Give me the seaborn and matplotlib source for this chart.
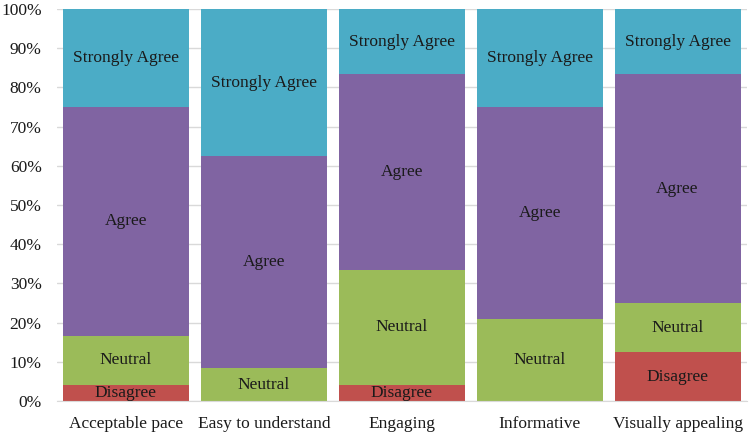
import numpy as np
import pandas as pd
import matplotlib.pyplot as plt
import seaborn as sns
from matplotlib.ticker import PercentFormatter

categories = ["Acceptable pace", "Easy to understand", "Engaging", "Informative", "Visually appealing"]
disagree = [4.17, 0, 4.17, 0, 12.5]
neutral = [12.5, 8.33, 29.17, 20.83, 12.5]
agree = [58.33, 54.17, 50.0, 54.17, 58.33]
strongly_agree = [25.0, 37.5, 16.67, 25.0, 16.67]

series = ["Disagree", "Neutral", "Agree", "Strongly Agree"]
colors = ["#C0504D", "#9BBB59", "#8064A2", "#4BACC6"]

df = pd.DataFrame({"cat": categories, "Disagree": disagree, "Neutral": neutral,
                   "Agree": agree, "Strongly Agree": strongly_agree})

sns.set_style("white")
plt.rcParams['font.family'] = ['Liberation Serif', 'DejaVu Serif']

fig = plt.figure(figsize=(7.49, 4.33), dpi=100)
ax = fig.add_axes([0.0761, 0.0739, 0.9206, 0.9053])

bottom = np.zeros(len(categories))
for s, c in zip(series, colors):
    sns.barplot(data=df, x="cat", y=s, color=c, bottom=bottom, width=0.913,
                saturation=1, ax=ax, zorder=2, linewidth=0)
    for i, v in enumerate(df[s]):
        if v > 0:
            ax.text(i, bottom[i] + v / 2, s, ha="center", va="center",
                    fontsize=12.5, color="#1a1a1a", zorder=3)
    bottom += df[s].values

ax.set_ylim(0, 100)
ax.set_xlim(-0.5, len(categories) - 0.5)
ax.set_yticks(range(0, 101, 10))
ax.yaxis.set_major_formatter(PercentFormatter(decimals=0))
ax.grid(axis="y", color="#d9d9d9", linewidth=1, zorder=0)
ax.set_axisbelow(True)
for sp in ["top", "right", "left"]:
    ax.spines[sp].set_visible(False)
ax.spines["bottom"].set_color("#d9d9d9")
ax.set_xlabel("")
ax.set_ylabel("")
ax.tick_params(axis="both", length=0, labelsize=12.5, labelcolor="#1a1a1a")
ax.tick_params(axis="x", pad=11)
ax.tick_params(axis="y", pad=11)

fig.savefig("out.png", dpi=100)
